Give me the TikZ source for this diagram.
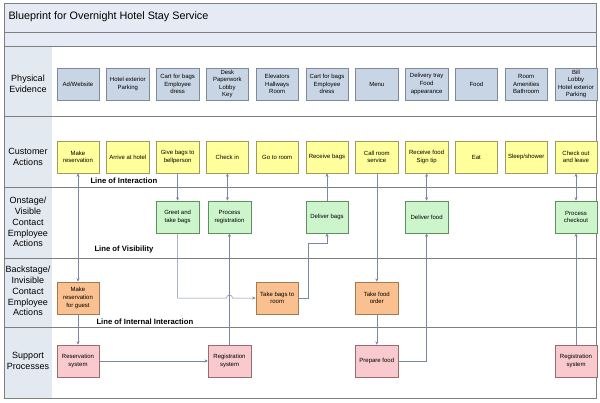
\documentclass[tikz,border=0pt]{standalone}
\usepackage{fontspec}
\setmainfont{Liberation Sans}
\usetikzlibrary{arrows.meta,positioning,calc}

\definecolor{bandfill}{HTML}{E6EAF5}
\definecolor{lanefill}{HTML}{E3E9F1}
\definecolor{gridline}{HTML}{7F7F7F}
\definecolor{linkc}{HTML}{7A88A6}
\definecolor{evfill}{HTML}{C8D5E4}
\definecolor{evdraw}{HTML}{7E8A99}
\definecolor{cufill}{HTML}{FFFF9C}
\definecolor{cudraw}{HTML}{9C9C5E}
\definecolor{onfill}{HTML}{CCF5CC}
\definecolor{ondraw}{HTML}{5E8F5E}
\definecolor{bkfill}{HTML}{FAC08F}
\definecolor{bkdraw}{HTML}{A47A52}
\definecolor{spfill}{HTML}{F8C9CD}
\definecolor{spdraw}{HTML}{9A6A6E}

\begin{document}
\begin{tikzpicture}[
    x=1pt, y=-1pt,
    >={Stealth[length=3.5pt,width=3pt]}, node distance=6.8pt,
    every node/.style={font=\fontsize{6}{7.6}\selectfont},
    act/.style={draw, align=center, inner sep=0.5pt, minimum width=42.5pt, minimum height=32pt, line width=0.5pt},
    ev/.style={act, fill=evfill, draw=evdraw},
    cu/.style={act, fill=cufill, draw=cudraw},
    onst/.style={act, fill=onfill, draw=ondraw},
    back/.style={act, fill=bkfill, draw=bkdraw},
    supp/.style={act, fill=spfill, draw=spdraw},
    lane/.style={align=center, font=\fontsize{9}{10.8}\selectfont},
    lineof/.style={anchor=west, font=\bfseries\fontsize{7.7}{9}\selectfont},
    link/.style={draw=linkc, ->, line width=0.5pt}
  ]
    \useasboundingbox (0,0) rectangle (600,402);

    % swimlanes
    \fill[bandfill] (4,3) rectangle (596,46);
    \fill[lanefill] (4,46) rectangle (52,398);
    \draw[gridline] (4,32) -- (596,32);
    \draw[gridline] (4,46) -- (596,46);
    \draw[gridline] (4,116) -- (596,116);
    \draw[gridline] (4,187) -- (596,187);
    \draw[gridline] (4,258) -- (596,258);
    \draw[gridline] (4,327) -- (596,327);
    \draw[gridline] (4,3) rectangle (596,398);

    \node[anchor=west, font=\fontsize{10.8}{13}\selectfont] (title) at (5,17) {Blueprint for Overnight Hotel Stay Service};

    \node[lane] (lev) at (28,84)  {Physical\\Evidence};
    \node[lane] (lcu) at (28,157) {Customer\\Actions};
    \node[lane] (lon) at (28,222) {Onstage/\\Visible\\Contact\\Employee\\Actions};
    \node[lane] (lbk) at (28,291) {Backstage/\\Invisible\\Contact\\Employee\\Actions};
    \node[lane] (lsp) at (28,361) {Support\\Processes};

    % physical evidence
    \node[ev] (p1) at (78,84) {Ad/Website};
    \node[ev, right=of p1]  (p2)  {Hotel exterior\\Parking};
    \node[ev, right=of p2]  (p3)  {Cart for bags\\Employee\\dress};
    \node[ev, right=of p3]  (p4)  {Desk\\Paperwork\\Lobby\\Key};
    \node[ev, right=of p4]  (p5)  {Elevators\\Hallways\\Room};
    \node[ev, right=of p5]  (p6)  {Cart for bags\\Employee\\dress};
    \node[ev, right=of p6]  (p7)  {Menu};
    \node[ev, right=of p7]  (p8)  {Delivery tray\\Food\\appearance};
    \node[ev, right=of p8]  (p9)  {Food};
    \node[ev, right=of p9]  (p10) {Room\\Amenities\\Bathroom};
    \node[ev, right=of p10] (p11) {Bill\\Lobby\\Hotel exterior\\Parking};

    % customer actions
    \node[cu] (c1)  at (p1 |- 0,157)  {Make\\reservation};
    \node[cu] (c2)  at (p2 |- 0,157)  {Arrive at hotel};
    \node[cu] (c3)  at (p3 |- 0,157)  {Give bags to\\bellperson};
    \node[cu] (c4)  at (p4 |- 0,157)  {Check in};
    \node[cu] (c5)  at (p5 |- 0,157)  {Go to room};
    \node[cu] (c6)  at (p6 |- 0,157)  {Receive bags};
    \node[cu] (c7)  at (p7 |- 0,157)  {Call room\\service};
    \node[cu] (c8)  at (p8 |- 0,157)  {Receive food\\Sign tip};
    \node[cu] (c9)  at (p9 |- 0,157)  {Eat};
    \node[cu] (c10) at (p10 |- 0,157) {Sleep/shower};
    \node[cu] (c11) at (p11 |- 0,157) {Check out\\and leave};

    \node[lineof] (loi) at (87,181) {Line of Interaction};

    % onstage
    \node[onst] (o3)  at (p3 |- 0,217)  {Greet and\\take bags};
    \node[onst] (o4)  at (229.5,217)    {Process\\registration};
    \node[onst] (o6)  at (p6 |- 0,217)  {Deliver bags};
    \node[onst] (o8)  at (p8 |- 0,217)  {Deliver food};
    \node[onst] (o11) at (p11 |- 0,217) {Process\\checkout};

    \node[lineof] (lov) at (91,250) {Line of Visibility};

    % backstage
    \node[back] (b1) at (p1 |- 0,298) {Make\\reservation\\for guest};
    \node[back] (b5) at (p5 |- 0,298) {Take bags to\\room};
    \node[back] (b7) at (p7 |- 0,298) {Take food\\order};

    \node[lineof] (lii) at (93,322) {Line of Internal Interaction};

    % support processes
    \node[supp] (s1)  at (p1 |- 0,361)  {Reservation\\system};
    \node[supp] (s4)  at (229.5,361)    {Registration\\system};
    \node[supp] (s7)  at (p7 |- 0,361)  {Prepare food};
    \node[supp] (s11) at (p11 |- 0,361) {Registration\\system};

    % flows
    \draw[link, <->] (c1) -- (b1);
    \draw[link] (b1) -- (s1);
    \draw[link] (s1) -- (s4);
    \draw[link] (c3) -- (o3);
    \draw[link, <->] (c4.south) -- (c4.south |- o4.north);
    \draw[link] (s4) -- (o4);
    \draw[link] (o3.south) |- ($(s4.north |- b5.west)+(-3,0)$) arc[start angle=180, end angle=0, radius=3pt] -- (b5.west);
    \draw[link] (b5.east) -- ++(10,0) |- ($(o6.south)+(0,10)$) -- (o6.south);
    \draw[link] (o6) -- (c6);
    \draw[link] (c7) -- (b7);
    \draw[link] (b7) -- (s7);
    \draw[link] (s7.east) -| (o8.south);
    \draw[link, <->] (c8) -- (o8);
    \draw[link, <->] (c11) -- (o11);
    \draw[link] (s11) -- (o11);

  \end{tikzpicture}
\end{document}
